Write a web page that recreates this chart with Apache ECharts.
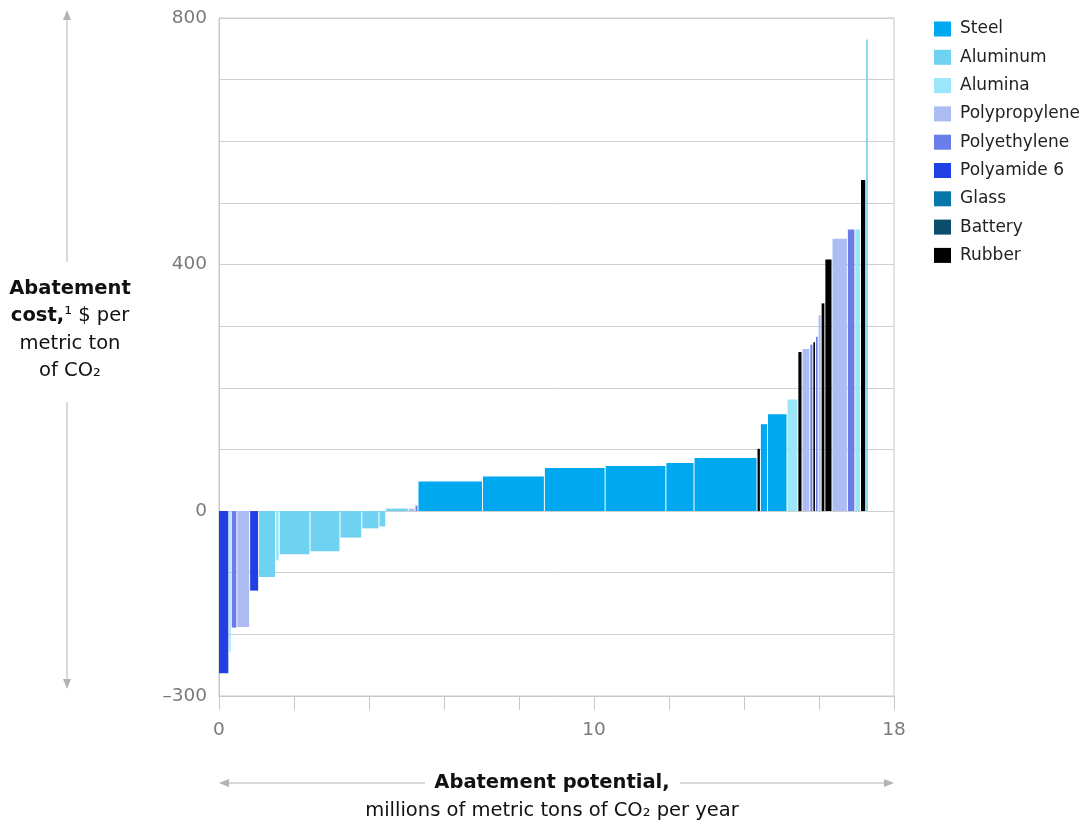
<!DOCTYPE html>
<html>
<head>
<meta charset="utf-8">
<script src="https://cdn.jsdelivr.net/npm/echarts@6/dist/echarts.min.js"></script>
<style>
  html, body { margin: 0; padding: 0; background: #ffffff; }
  #chart { width: 1088px; height: 825px; }
</style>
</head>
<body>
<div id="chart"></div>
<script>
// ---- Data ----
const materials = ['Steel', 'Aluminum', 'Alumina', 'Polypropylene', 'Polyethylene', 'Polyamide 6', 'Glass', 'Battery', 'Rubber'];
const materialColors = ['#00a8f0', '#6fd2f0', '#9be6f8', '#aebcf4', '#6a7de8', '#2140e3', '#0577a8', '#0b4d6b', '#000000'];

// Levers in order along the cost curve
const leverMaterial = [
  'Polyamide 6', 'Alumina', 'Polyethylene', 'Polypropylene', 'Polyamide 6', 'Aluminum', 'Alumina', 'Aluminum',
  'Aluminum', 'Aluminum', 'Aluminum', 'Aluminum', 'Aluminum', 'Polypropylene', 'Polyethylene',
  'Steel', 'Steel', 'Steel', 'Steel', 'Steel', 'Steel', 'Rubber', 'Steel', 'Steel', 'Alumina',
  'Rubber', 'Polypropylene', 'Polyethylene', 'Rubber', 'Polyethylene', 'Polypropylene', 'Rubber', 'Rubber',
  'Polypropylene', 'Polyethylene', 'Alumina', 'Rubber', 'Aluminum'
];
// Abatement potential (width), millions of metric tons of CO2 per year
const leverPotential = [
  0.275, 0.065, 0.15, 0.34, 0.24, 0.45, 0.10, 0.82,
  0.80, 0.58, 0.46, 0.18, 0.60, 0.18, 0.08,
  1.72, 1.65, 1.62, 1.62, 0.75, 1.68, 0.09, 0.19, 0.52, 0.29,
  0.11, 0.21, 0.08, 0.07, 0.07, 0.08, 0.10, 0.19,
  0.41, 0.20, 0.15, 0.14, 0.07
];
// Abatement cost, $ per metric ton of CO2
const leverCost = [
  -263, -228, -189, -188, -129, -107, -80, -70,
  -65, -43, -28, -25, 4, 4, 9,
  48, 56, 70, 73, 78, 86, 101, 141, 157, 181,
  258, 263, 270, 274, 283, 318, 337, 408,
  442, 457, 457, 537, 765
];
const xTickLabels = { 0: '0', 10: '10', 18: '18' };
const yTickLabels = { 800: '800', 400: '400', 0: '0', '-300': '\u2013300' };

// ---- Build series ----
const FONT = "'DejaVu Sans', sans-serif";
const seriesData = materials.map(() => []);
let cum = 0;
leverPotential.forEach((w, i) => {
  const idx = materials.indexOf(leverMaterial[i]);
  seriesData[idx].push([cum, cum + w, leverCost[i]]);
  cum += w;
});

function renderBar(params, api) {
  const p0 = api.coord([api.value(0), api.value(2)]);
  const p1 = api.coord([api.value(1), 0]);
  let w = p1[0] - p0[0];
  w = Math.max(1.3, w - 1);
  const y = Math.min(p0[1], p1[1]);
  const h = Math.abs(p1[1] - p0[1]);
  return { type: 'rect', shape: { x: p0[0], y: y, width: w, height: h }, style: api.style() };
}

const series = materials.map((m, i) => ({
  name: m,
  type: 'custom',
  renderItem: renderBar,
  itemStyle: { color: materialColors[i] },
  encode: { x: [0, 1], y: 2 },
  data: seriesData[i]
}));

const chart = echarts.init(document.getElementById('chart'), null, { renderer: 'canvas' });
const arrowColor = '#b3b3b3';
chart.setOption({
  animation: false,
  backgroundColor: '#ffffff',
  grid: { left: 219, right: 194, top: 18, bottom: 129, show: true, borderColor: '#c8c8c8', borderWidth: 1 },
  legend: {
    data: materials,
    orient: 'vertical',
    left: 934,
    top: 20,
    padding: 0,
    icon: 'rect',
    itemWidth: 17,
    itemHeight: 15,
    itemGap: 10.3,
    selectedMode: false,
    textStyle: { fontFamily: FONT, fontSize: 17, color: '#222', lineHeight: 18, padding: [0, 0, 0, 4] }
  },
  xAxis: {
    type: 'value', min: 0, max: 18, interval: 2,
    axisLine: { show: true, onZero: false, lineStyle: { color: '#c8c8c8', width: 1 } },
    axisTick: { show: true, length: 14, lineStyle: { color: '#c8c8c8', width: 1 } },
    splitLine: { show: false },
    axisLabel: {
      margin: 25, color: '#7a7a7a', fontFamily: FONT, fontSize: 18.5,
      formatter: v => xTickLabels[v] !== undefined ? xTickLabels[v] : ''
    }
  },
  yAxis: {
    type: 'value', min: -300, max: 800, interval: 100,
    axisLine: { show: true, lineStyle: { color: '#c8c8c8', width: 1 } },
    axisTick: { show: false },
    splitLine: { show: true, lineStyle: { color: '#cfcfcf', width: 1 } },
    axisLabel: {
      margin: 12, color: '#7a7a7a', fontFamily: FONT, fontSize: 18.5,
      formatter: v => yTickLabels[v] !== undefined ? yTickLabels[v] : ''
    }
  },
  series: series,
  graphic: [
    // vertical arrows (left title)
    { type: 'line', shape: { x1: 67, y1: 18, x2: 67, y2: 262 }, style: { stroke: arrowColor, lineWidth: 1 } },
    { type: 'polygon', shape: { points: [[67, 10], [63, 20], [71, 20]] }, style: { fill: arrowColor } },
    { type: 'line', shape: { x1: 67, y1: 402, x2: 67, y2: 680 }, style: { stroke: arrowColor, lineWidth: 1 } },
    { type: 'polygon', shape: { points: [[67, 689], [63, 679], [71, 679]] }, style: { fill: arrowColor } },
    // horizontal arrows (bottom title)
    { type: 'line', shape: { x1: 227, y1: 783, x2: 425, y2: 783 }, style: { stroke: arrowColor, lineWidth: 1 } },
    { type: 'polygon', shape: { points: [[219, 783], [229, 779], [229, 787]] }, style: { fill: arrowColor } },
    { type: 'line', shape: { x1: 680, y1: 783, x2: 886, y2: 783 }, style: { stroke: arrowColor, lineWidth: 1 } },
    { type: 'polygon', shape: { points: [[894, 783], [884, 779], [884, 787]] }, style: { fill: arrowColor } },
    // left axis title
    {
      type: 'text',
      style: {
        x: 70, y: 275, textAlign: 'center', textVerticalAlign: 'top',
        text: '{b|Abatement}\n{b|cost,}{s|\u00b9}{r| $ per}\n{r|metric ton}\n{r|of CO\u2082}',
        rich: {
          b: { fontFamily: FONT, fontWeight: 'bold', fontSize: 19.5, lineHeight: 27.5, fill: '#111' },
          s: { fontFamily: FONT, fontSize: 19.5, lineHeight: 27.5, fill: '#111' },
          r: { fontFamily: FONT, fontSize: 19.5, lineHeight: 27.5, fill: '#111' }
        }
      }
    },
    // bottom axis title
    {
      type: 'text',
      style: {
        x: 552, y: 783, textAlign: 'center', textVerticalAlign: 'middle',
        text: 'Abatement potential,', fontFamily: FONT, fontWeight: 'bold', fontSize: 19.5, fill: '#111'
      }
    },
    {
      type: 'text',
      style: {
        x: 552, y: 811, textAlign: 'center', textVerticalAlign: 'middle',
        text: 'millions of metric tons of CO\u2082 per year', fontFamily: FONT, fontSize: 19.5, fill: '#111'
      }
    }
  ]
});
</script>
</body>
</html>
